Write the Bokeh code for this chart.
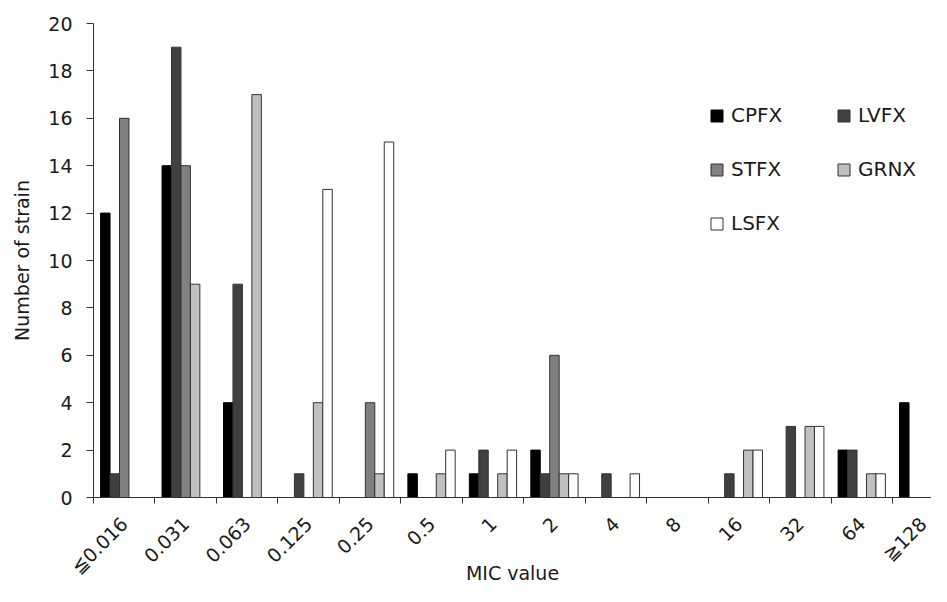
import numpy as np
from bokeh.plotting import figure
from bokeh.models import Range1d, FixedTicker, Legend, LegendItem, ColumnDataSource
from bokeh.embed import file_html
from bokeh.resources import INLINE

# ---- data ----
categories = ["≦0.016", "0.031", "0.063", "0.125", "0.25", "0.5", "1", "2",
              "4", "8", "16", "32", "64", "≧128"]
series_names = ["CPFX", "LVFX", "STFX", "GRNX", "LSFX"]
cpfx = [12, 14, 4, 0, 0, 1, 1, 2, 0, 0, 0, 0, 2, 4]
lvfx = [1, 19, 9, 1, 0, 0, 2, 1, 1, 0, 1, 3, 2, 0]
stfx = [16, 14, 0, 0, 4, 0, 0, 6, 0, 0, 0, 0, 0, 0]
grnx = [0, 9, 17, 4, 1, 1, 1, 1, 0, 0, 2, 3, 1, 0]
lsfx = [0, 0, 0, 13, 15, 2, 2, 1, 1, 0, 2, 3, 1, 0]
y_ticks = [0, 2, 4, 6, 8, 10, 12, 14, 16, 18, 20]
x_title = "MIC value"
y_title = "Number of strain"

series_values = [cpfx, lvfx, stfx, grnx, lsfx]
fills = ["#000000", "#404040", "#808080", "#c0c0c0", "#ffffff"]

FONT = "DejaVu Sans"
TXT = "#1a1a1a"
AX = "#333333"

p = figure(width=931, height=586, output_backend="svg", toolbar_location=None,
           x_range=Range1d(0, 13.635), y_range=Range1d(0, 20),
           min_border_left=93, min_border_right=0, min_border_top=23,
           min_border_bottom=87)
p.outline_line_color = None
p.xgrid.visible = False
p.ygrid.visible = False
p.background_fill_color = "white"

n = len(series_names)
bw = 1.0 / 6.5
idx = np.arange(len(categories))
renderers = []
for i, (name, vals, col) in enumerate(zip(series_names, series_values, fills)):
    v = np.array(vals, dtype=float)
    mask = v > 0
    xs = idx[mask] + 0.5 + (i - (n - 1) / 2) * bw
    src = ColumnDataSource(dict(x=xs, top=v[mask]))
    r = p.vbar(x="x", top="top", width=bw, bottom=0, source=src,
               fill_color=col, line_color="#000000" if i == 0 else AX,
               line_width=1)
    renderers.append(r)

# x axis
xa = p.xaxis[0]
xa.ticker = FixedTicker(ticks=[i + 0.5 for i in range(len(categories))],
                        minor_ticks=list(range(len(categories) + 1)))
xa.major_label_overrides = {i + 0.5: c for i, c in enumerate(categories)}
xa.major_label_orientation = np.pi / 4
xa.major_tick_line_color = None
xa.major_tick_out = 6
xa.major_tick_in = 0
xa.minor_tick_out = 6
xa.minor_tick_in = 0
xa.minor_tick_line_color = AX
xa.axis_line_color = AX
xa.major_label_text_font = FONT
xa.major_label_text_font_size = "19px"
xa.major_label_text_color = TXT
xa.major_label_standoff = 17
xa.axis_label = x_title
xa.axis_label_text_font = FONT
xa.axis_label_text_font_size = "19px"
xa.axis_label_text_font_style = "normal"
xa.axis_label_text_color = TXT
xa.axis_label_standoff = -27

# y axis
ya = p.yaxis[0]
ya.ticker = FixedTicker(ticks=y_ticks)
ya.minor_tick_line_color = None
ya.major_tick_out = 7
ya.major_tick_in = 0
ya.major_tick_line_color = AX
ya.axis_line_color = AX
ya.major_label_text_font = FONT
ya.major_label_text_font_size = "19px"
ya.major_label_text_color = TXT
ya.major_label_standoff = 14
ya.axis_label = y_title
ya.axis_label_text_font = FONT
ya.axis_label_text_font_size = "19px"
ya.axis_label_text_font_style = "normal"
ya.axis_label_text_color = TXT
ya.axis_label_standoff = 12

# legend: column-major fill -> order to give rows CPFX/LVFX, STFX/GRNX, LSFX
order = [0, 2, 4, 1, 3]
legend = Legend(items=[LegendItem(label=series_names[k], renderers=[renderers[k]]) for k in order],
                ncols=2, location=(616, 262),
                background_fill_alpha=0, border_line_color=None,
                glyph_width=15, glyph_height=15, label_standoff=7,
                spacing=30, label_width=75, padding=0, margin=0,
                label_text_font=FONT, label_text_font_size="20px",
                label_text_color=TXT)
p.add_layout(legend)

open("out.html", "w").write(file_html(p, INLINE))
